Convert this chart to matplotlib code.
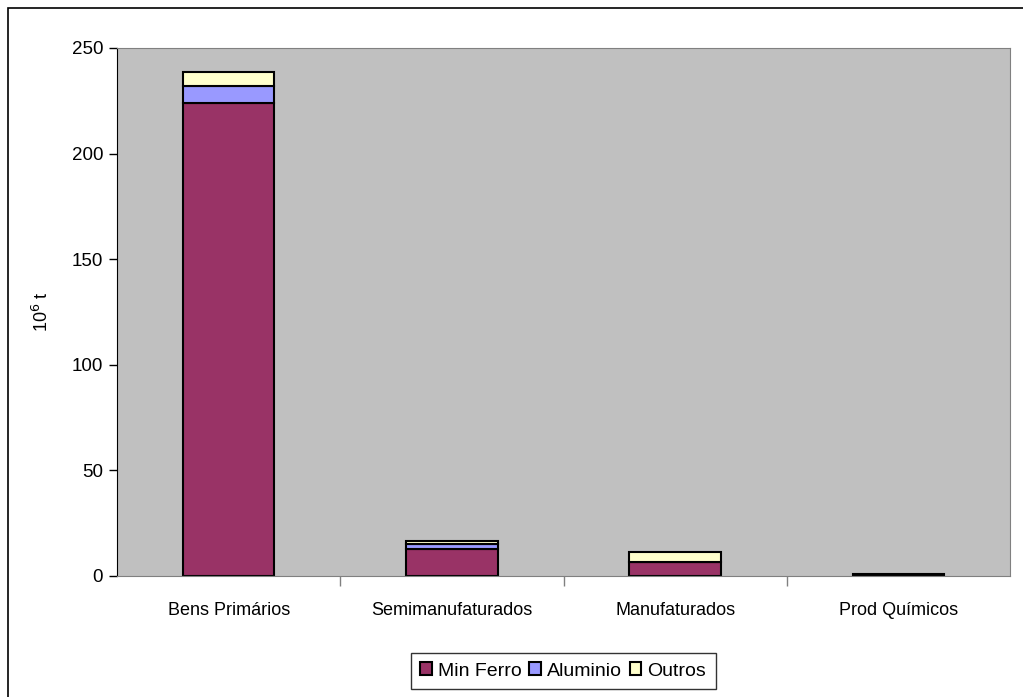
import numpy as np
import matplotlib.pyplot as plt
from matplotlib.patches import Rectangle

plt.rcParams['font.family'] = ['Liberation Sans', 'DejaVu Sans']

categorias = ['Bens Primários', 'Semimanufaturados', 'Manufaturados', 'Prod Químicos']
min_ferro = [224.0, 13.0, 6.6, 0.0]
aluminio = [8.0, 2.3, 0.0, 0.0]
outros = [6.6, 1.4, 4.8, 0.8]

cores = ['#993366', '#9999FF', '#FFFFCC']
nomes = ['Min Ferro', 'Aluminio', 'Outros']

fig = plt.figure(figsize=(10.23, 6.97), dpi=100)
ax = fig.add_axes([117/1023, 1-576/697, 893/1023, 528/697])
ax.set_facecolor('#C0C0C0')

x = np.arange(len(categorias))
base = np.zeros(len(categorias))
for vals, cor, nome in zip([min_ferro, aluminio, outros], cores, nomes):
    ax.bar(x, vals, bottom=base, width=0.41, color=cor, edgecolor='black',
           linewidth=1.5, label=nome)
    base += np.array(vals)

ax.set_xlim(-0.5, 3.5)
ax.set_ylim(0, 250)
ax.set_yticks([0, 50, 100, 150, 200, 250])
ax.tick_params(axis='y', labelsize=13.5, length=6, width=1, direction='out', pad=4)
ax.set_xticks(x)
ax.set_xticklabels(categorias, fontsize=13)
ax.tick_params(axis='x', length=0, pad=19)
ax.set_xticks([0.5, 1.5, 2.5], minor=True)
ax.tick_params(axis='x', which='minor', length=7, width=1, color='#808080')
ax.set_ylabel('10$^6$ t', fontsize=13, labelpad=14)

ax.spines['left'].set_color('black')
ax.spines['bottom'].set_color('#808080')
ax.spines['top'].set_color('#808080')
ax.spines['right'].set_color('#808080')

leg = fig.legend(loc='center', bbox_to_anchor=(563/1023, 1-671/697), ncol=3,
                 fontsize=14, frameon=True, fancybox=False, edgecolor='black',
                 handlelength=0.6, handleheight=0.6, handletextpad=0.3,
                 columnspacing=0.4, borderpad=0.5)
leg.get_frame().set_linewidth(1)

# borda do gráfico
fig.patches.append(Rectangle((8/1023, -0.1), 1.2, 1 - 8/697 + 0.1,
                             transform=fig.transFigure, fill=False,
                             edgecolor='black', linewidth=1.2))

plt.savefig('out.png', dpi=100)
